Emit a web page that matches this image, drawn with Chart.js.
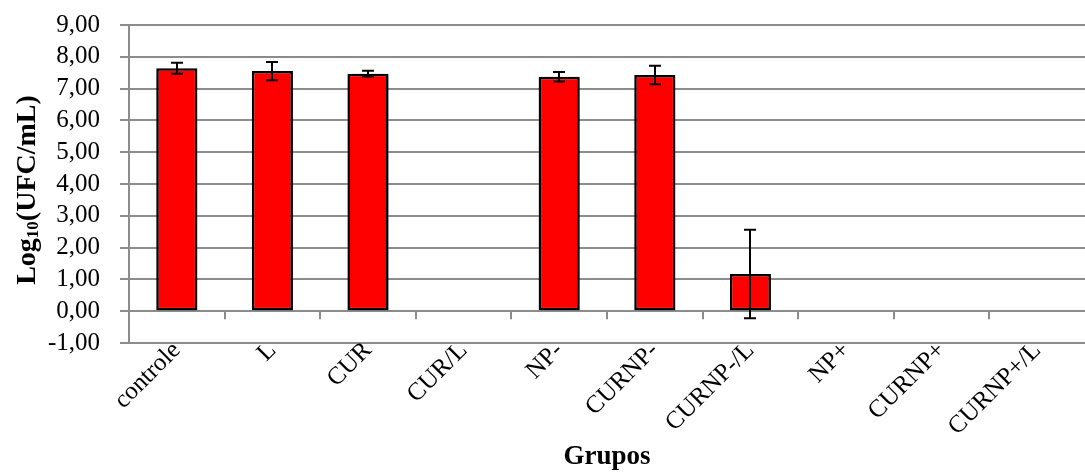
<!DOCTYPE html>
<html>
<head>
<meta charset="utf-8">
<script src="https://cdn.jsdelivr.net/npm/chart.js@4.4.1/dist/chart.umd.min.js"></script>
<style>
  html, body { margin: 0; padding: 0; background: #ffffff; }
  #wrap { width: 1085px; height: 473px; }
</style>
</head>
<body>
<div id="wrap"><canvas id="chart" width="1085" height="473"></canvas></div>
<script>
// Bacterial counts per group (log10 CFU/mL), mean and standard deviation
const groups = ['controle', 'L', 'CUR', 'CUR/L', 'NP-', 'CURNP-', 'CURNP-/L', 'NP+', 'CURNP+', 'CURNP+/L'];
const means  = [7.64, 7.55, 7.47, 0, 7.37, 7.43, 1.17, 0, 0, 0];
const errors = [0.17, 0.29, 0.09, 0, 0.15, 0.29, 1.39, 0, 0, 0];
const yTicks = [-1, 0, 1, 2, 3, 4, 5, 6, 7, 8, 9];

const FONT = "'Liberation Serif', 'Times New Roman', serif";
const GRID = '#8c8c8c';

// Soft drop shadow under the bars
const barShadow = {
  id: 'barShadow',
  beforeDatasetsDraw(chart) {
    const ctx = chart.ctx;
    ctx.save();
    ctx.shadowColor = 'rgba(0,0,0,0.35)';
    ctx.shadowBlur = 6;
    ctx.shadowOffsetX = 2;
    ctx.shadowOffsetY = 3;
  },
  afterDatasetsDraw(chart) {
    chart.ctx.restore();
  }
};

// Error bars (mean ± sd) with caps
const errorBars = {
  id: 'errorBars',
  afterDatasetsDraw(chart) {
    const ctx = chart.ctx;
    const y = chart.scales.y;
    const meta = chart.getDatasetMeta(0);
    ctx.save();
    ctx.strokeStyle = '#000000';
    ctx.lineWidth = 2;
    meta.data.forEach((bar, i) => {
      const e = errors[i];
      if (!e) return;
      const x = Math.round(bar.x);
      const top = y.getPixelForValue(means[i] + e);
      const bot = y.getPixelForValue(means[i] - e);
      const cap = 6;
      ctx.beginPath();
      ctx.moveTo(x, top); ctx.lineTo(x, bot);
      ctx.moveTo(x - cap, top); ctx.lineTo(x + cap, top);
      ctx.moveTo(x - cap, bot); ctx.lineTo(x + cap, bot);
      ctx.stroke();
    });
    ctx.restore();
  }
};

// Category axis crosses at zero: tick marks between groups on the zero line
const zeroAxisTicks = {
  id: 'zeroAxisTicks',
  afterDraw(chart) {
    const ctx = chart.ctx;
    const xs = chart.scales.x;
    const y0 = chart.scales.y.getPixelForValue(0);
    ctx.save();
    ctx.strokeStyle = GRID;
    ctx.lineWidth = 2;
    ctx.beginPath();
    for (let i = 1; i < groups.length; i++) {
      const bx = Math.round((xs.getPixelForValue(i - 1) + xs.getPixelForValue(i)) / 2);
      ctx.moveTo(bx, y0);
      ctx.lineTo(bx, y0 + 8);
    }
    ctx.stroke();
    ctx.restore();
  }
};

// Vertical axis title with subscript
const yTitle = {
  id: 'yTitle',
  afterDraw(chart) {
    const ctx = chart.ctx;
    const area = chart.chartArea;
    const cy = (area.top + area.bottom) / 2 + 6;
    const parts = [
      { t: 'Log', f: "bold 28px " + FONT, dy: 0 },
      { t: '10', f: "bold 17px " + FONT, dy: 3 },
      { t: '(UFC/mL)', f: "bold 28px " + FONT, dy: 0 }
    ];
    ctx.save();
    let total = 0;
    parts.forEach(p => { ctx.font = p.f; p.w = ctx.measureText(p.t).width; total += p.w; });
    ctx.translate(35, cy);
    ctx.rotate(-Math.PI / 2);
    ctx.fillStyle = '#000000';
    ctx.textBaseline = 'alphabetic';
    ctx.textAlign = 'left';
    let x = -total / 2;
    parts.forEach(p => {
      ctx.font = p.f;
      ctx.fillText(p.t, x, p.dy);
      x += p.w;
    });
    ctx.restore();
  }
};

new Chart(document.getElementById('chart'), {
  type: 'bar',
  data: {
    labels: groups,
    datasets: [{
      data: means,
      backgroundColor: '#ff0000',
      borderColor: '#000000',
      borderWidth: 2.5,
      borderSkipped: false,
      barPercentage: 0.43,
      categoryPercentage: 1.0
    }]
  },
  options: {
    responsive: false,
    animation: false,
    devicePixelRatio: 1,
    layout: { padding: { top: 25, right: 0, left: 0, bottom: 0 } },
    plugins: {
      legend: { display: false },
      tooltip: { enabled: false }
    },
    scales: {
      x: {
        offset: true,
        grid: { display: false, drawTicks: false },
        border: { display: false },
        ticks: {
          color: '#000000',
          font: { family: FONT, size: 25 },
          minRotation: 45,
          maxRotation: 45,
          autoSkip: false,
          padding: -7
        },
        title: {
          display: true,
          text: 'Grupos',
          color: '#000000',
          font: { family: FONT, size: 27, weight: 'bold' },
          padding: { top: 0, bottom: 0 }
        },
        afterFit(scale) {
          scale.height = 130;
          scale.paddingLeft = 0;
          scale.paddingRight = 0;
        }
      },
      y: {
        min: -1,
        max: 9,
        afterBuildTicks(scale) { scale.ticks = yTicks.map(v => ({ value: v })); },
        grid: { color: GRID, lineWidth: 2, tickLength: 9 },
        border: { display: true, color: GRID, width: 2 },
        ticks: {
          color: '#000000',
          font: { family: FONT, size: 25 },
          padding: 20,
          autoSkip: false,
          callback: v => v.toFixed(2).replace('.', ',')
        },
        afterFit(scale) {
          scale.width = 129;
          scale.paddingTop = 0;
          scale.paddingBottom = 0;
        }
      }
    }
  },
  plugins: [barShadow, errorBars, zeroAxisTicks, yTitle]
});
</script>
</body>
</html>
